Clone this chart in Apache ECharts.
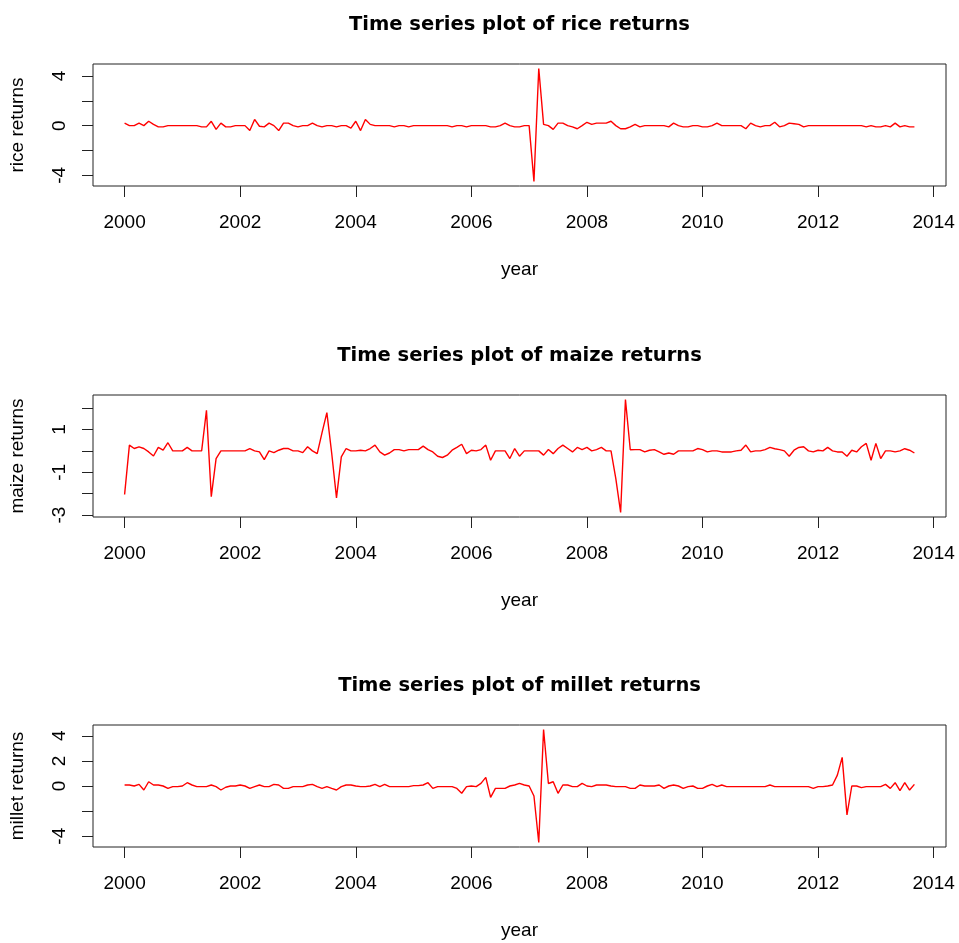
<!DOCTYPE html>
<html>
<head>
<meta charset="utf-8">
<script src="https://cdn.jsdelivr.net/npm/echarts@6/dist/echarts.min.js"></script>
<style>
html,body{margin:0;padding:0;background:#fff;}
#chart{width:959px;height:943px;}
</style>
</head>
<body>
<div id="chart"></div>
<script>
// Monthly returns, Jan 2000 .. Sep 2013
var startYear = 2000;
var xTicks = [2000, 2002, 2004, 2006, 2008, 2010, 2012, 2014];

var rice = [
 0.2, 0, 0, 0.2, 0, 0.35, 0.1, -0.1, -0.1, 0,
 0, 0, 0, 0, 0, 0, -0.1, -0.1, 0.35, -0.3,
 0.2, -0.1, -0.1, 0, 0, 0, -0.4, 0.5, -0.05, -0.1,
 0.2, 0, -0.4, 0.2, 0.2, 0, -0.1, 0, 0, 0.2,
 0, -0.1, 0, 0, -0.1, 0, 0, -0.2, 0.35, -0.4,
 0.5, 0.1, 0, 0, 0, 0, -0.1, 0, 0, -0.1,
 0, 0, 0, 0, 0, 0, 0, 0, -0.1, 0,
 0, -0.1, 0, 0, 0, 0, -0.1, -0.1, 0, 0.2,
 0, -0.1, -0.1, 0, 0, -4.5, 4.6, 0.1, 0, -0.3,
 0.2, 0.2, 0, -0.1, -0.25, 0, 0.27, 0.1, 0.2, 0.2,
 0.2, 0.35, 0, -0.25, -0.25, -0.1, 0.1, -0.1, 0, 0,
 0, 0, 0, -0.1, 0.2, 0, -0.1, -0.1, 0, 0,
 -0.1, -0.1, 0, 0.2, 0, 0, 0, 0, 0, -0.25,
 0.2, 0, -0.1, 0, 0, 0.27, -0.1, 0, 0.2, 0.15,
 0.1, -0.1, 0, 0, 0, 0, 0, 0, 0, 0,
 0, 0, 0, 0, -0.1, 0, -0.1, -0.1, 0, -0.1,
 0.2, -0.1, 0, -0.1, -0.1
];

var maize = [
 -2.04, 0.27, 0.11, 0.19, 0.11, -0.05, -0.24, 0.16, 0.03, 0.38,
 0, 0, 0, 0.16, 0, 0, 0, 1.9, -2.14, -0.36,
 0, 0, 0, 0, 0, 0, 0.11, 0, -0.05, -0.41,
 0, -0.08, 0.03, 0.11, 0.11, 0, 0, -0.08, 0.19, 0,
 -0.13, 0.85, 1.79, -0.1, -2.2, -0.28, 0.11, 0, 0, 0.03,
 0, 0.11, 0.27, -0.05, -0.2, -0.1, 0.06, 0.06, 0, 0.06,
 0.06, 0.06, 0.22, 0.06, -0.05, -0.25, -0.31, -0.2, 0.03, 0.16,
 0.31, -0.13, 0.03, 0, 0.06, 0.27, -0.44, 0, 0, 0,
 -0.36, 0.11, -0.25, 0, 0, 0, 0, -0.2, 0.06, -0.13,
 0.11, 0.27, 0.11, -0.05, 0.16, 0.06, 0.16, 0, 0.06, 0.16,
 0, 0, -1.3, -2.88, 2.4, 0.05, 0.06, 0.06, -0.05, 0.03,
 0.06, -0.05, -0.16, -0.1, -0.16, 0, 0, 0, 0, 0.11,
 0.06, -0.05, 0, 0, -0.05, -0.05, -0.05, 0, 0.03, 0.27,
 -0.05, 0, 0, 0.06, 0.16, 0.1, 0.06, 0, -0.25, 0.03,
 0.16, 0.19, 0, -0.05, 0.03, 0, 0.16, 0, -0.05, -0.05,
 -0.25, 0.03, -0.05, 0.19, 0.35, -0.44, 0.35, -0.36, 0, 0,
 -0.05, 0, 0.1, 0.03, -0.1
];

var millet = [
 0.08, 0.08, 0, 0.13, -0.32, 0.34, 0.08, 0.08, 0, -0.19,
 -0.05, -0.05, 0, 0.26, 0.08, -0.05, -0.05, -0.05, 0.08, -0.05,
 -0.32, -0.1, 0, 0, 0.08, 0, -0.19, -0.05, 0.08, -0.05,
 -0.05, 0.13, 0.08, -0.19, -0.19, -0.05, -0.05, -0.05, 0.08, 0.13,
 -0.05, -0.19, -0.05, -0.19, -0.32, -0.05, 0.08, 0.08, 0, -0.05,
 -0.05, 0, 0.13, -0.05, 0.13, -0.05, -0.05, -0.05, -0.05, -0.05,
 0.03, 0.03, 0.08, 0.26, -0.19, -0.05, -0.05, -0.05, -0.05, -0.19,
 -0.58, -0.05, 0, -0.05, 0.21, 0.69, -0.9, -0.19, -0.19, -0.19,
 0, 0.08, 0.21, 0.08, 0, -0.8, -4.5, 4.5, 0.2, 0.34,
 -0.58, 0.08, 0.08, -0.05, -0.05, 0.21, 0, -0.05, 0.08, 0.08,
 0.08, 0, -0.05, -0.05, -0.05, -0.19, -0.19, 0.08, 0, 0,
 0, 0.08, -0.19, 0, 0.08, 0, -0.19, -0.05, 0, -0.19,
 -0.19, 0, 0.13, -0.05, 0.08, -0.05, -0.05, -0.05, -0.05, -0.05,
 -0.05, -0.05, -0.05, -0.05, 0.08, -0.05, -0.05, -0.05, -0.05, -0.05,
 -0.05, -0.05, -0.05, -0.19, -0.05, -0.05, 0, 0.08, 0.87, 2.28,
 -2.3, 0, 0, -0.13, -0.05, -0.05, -0.05, -0.05, 0.13, -0.19,
 0.26, -0.37, 0.26, -0.32, 0.13
];

var riceYTicks = [-4, -2, 0, 2, 4];
var riceYLabels = [-4, 0, 4];
var maizeYTicks = [-3, -2, -1, 0, 1, 2];
var maizeYLabels = [-3, -1, 1];
var milletYTicks = [-4, -2, 0, 2, 4];
var milletYLabels = [-4, 0, 2, 4];

var titles = ['Time series plot of rice returns', 'Time series plot of maize returns', 'Time series plot of millet returns'];
var yNames = ['rice returns', 'maize returns', 'millet returns'];

var panels = [
  {vals: rice, yt: riceYTicks, yl: riceYLabels},
  {vals: maize, yt: maizeYTicks, yl: maizeYLabels},
  {vals: millet, yt: milletYTicks, yl: milletYLabels}
];

function toPairs(vals) {
  return vals.map(function (v, i) { return [startYear + i / 12, v]; });
}
function ext(arr) {
  var mn = Math.min.apply(null, arr), mx = Math.max.apply(null, arr);
  var r = mx - mn;
  return [mn - 0.04 * r, mx + 0.04 * r];
}
function plain(v) { return String(Math.round(v)); }

var gridTops = [64, 395, 725];
var gridH = 122;
var FONT = 'Liberation Sans, Arial, sans-serif';
var TXT = '#000';
var AX = '#222';

var xExt = ext([startYear, startYear + (rice.length - 1) / 12]);

var grids = [], xAxes = [], yAxes = [], series = [], graphics = [];
panels.forEach(function (p, k) {
  grids.push({left: 93, width: 853, top: gridTops[k], height: gridH, show: true,
    borderColor: AX, borderWidth: 1, backgroundColor: 'transparent'});
  xAxes.push({
    type: 'value', gridIndex: k, min: xExt[0], max: xExt[1], position: 'bottom',
    axisLine: {show: false, onZero: false},
    axisTick: {show: true, length: 11, customValues: xTicks, lineStyle: {color: AX, width: 1}},
    axisLabel: {customValues: xTicks, formatter: plain, fontSize: 19, fontFamily: FONT, color: TXT, margin: 27},
    splitLine: {show: false},
    name: 'year', nameLocation: 'middle', nameGap: 74,
    nameTextStyle: {fontSize: 19, fontFamily: FONT, color: TXT}
  });
  var ye = ext(p.vals);
  yAxes.push({
    type: 'value', gridIndex: k, min: ye[0], max: ye[1], position: 'left',
    axisLine: {show: false, onZero: false},
    axisTick: {show: true, length: 11, customValues: p.yt, lineStyle: {color: AX, width: 1}},
    axisLabel: {customValues: p.yl, formatter: plain, fontSize: 19, fontFamily: FONT, color: TXT, rotate: 90,
      margin: 24, align: 'center', verticalAlign: 'bottom'},
    splitLine: {show: false},
    name: yNames[k], nameLocation: 'middle', nameGap: 66, nameRotate: 90,
    nameTextStyle: {fontSize: 19, fontFamily: FONT, color: TXT}
  });
  series.push({
    type: 'line', xAxisIndex: k, yAxisIndex: k, data: toPairs(p.vals),
    showSymbol: false, symbol: 'none', animation: false,
    lineStyle: {color: '#ff0000', width: 1.4}
  });
  graphics.push({
    type: 'text', x: 519.5, y: gridTops[k] - 39,
    style: {text: titles[k], font: 'bold 19.5px "DejaVu Sans"', fill: TXT,
      textAlign: 'center', textVerticalAlign: 'middle'}
  });
});

var chart = echarts.init(document.getElementById('chart'), null, {renderer: 'canvas'});
chart.setOption({
  animation: false,
  backgroundColor: '#fff',
  grid: grids, xAxis: xAxes, yAxis: yAxes, series: series, graphic: graphics
});
</script>
</body>
</html>
